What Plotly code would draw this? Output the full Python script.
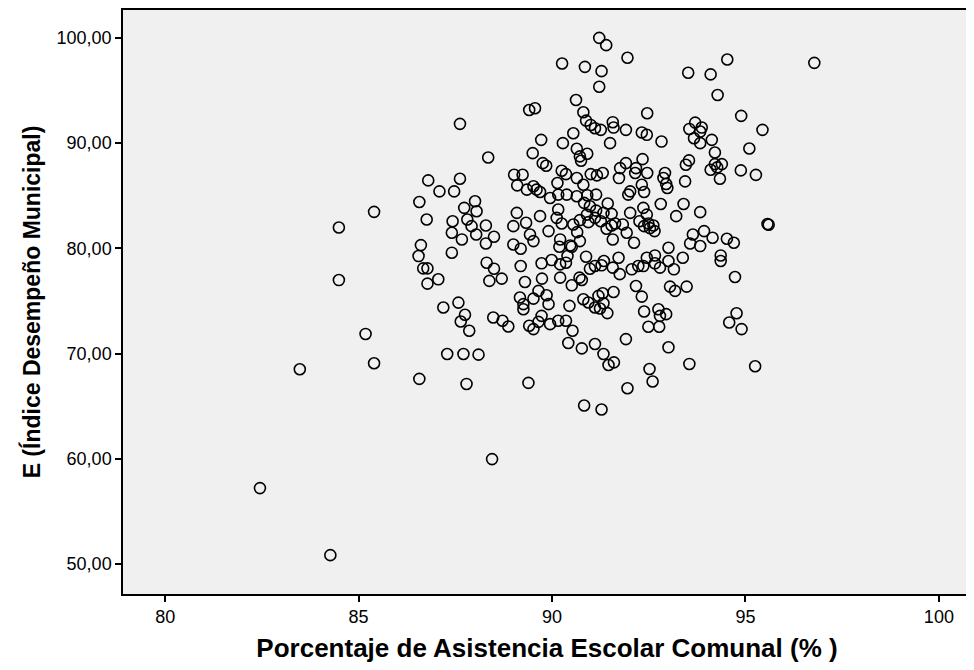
import plotly.graph_objects as go

# Porcentaje de Asistencia Escolar Comunal (%)
asistencia = [
    82.45, 84.27, 83.48, 84.49, 84.49, 85.18, 88.45,
    96.78, 95.44, 95.27, 95.57, 95.60, 95.25,
    91.95, 94.53, 93.52, 94.10, 94.28, 92.46, 94.89, 91.91, 92.32, 92.45,
    92.83, 93.70, 93.55, 93.87, 93.83, 93.67, 93.83, 94.13, 95.10, 94.21,
    91.91, 92.34, 92.17, 92.46, 93.54, 93.46, 94.21, 94.39, 94.10, 94.27,
    94.34, 94.88, 91.73, 91.76, 92.32, 92.02, 91.97, 92.38, 92.92, 92.88,
    92.95, 92.98, 93.44, 92.81, 93.40, 92.02, 92.36, 92.45, 93.21, 93.83, 92.15,
    91.22, 91.40, 90.26, 90.85, 91.28, 91.22, 90.62, 89.41, 89.56, 90.81,
    90.88, 91.00, 91.11, 91.26, 91.57, 91.59, 90.55, 89.72, 90.28, 91.50,
    88.35, 89.50, 90.64, 90.91, 90.72, 90.75, 89.76, 89.85, 90.25, 90.36,
    89.02, 89.24, 90.14, 90.64, 90.81, 91.00, 91.16, 91.31, 89.10, 89.35,
    89.52, 89.60, 89.69, 89.95, 90.16, 90.38, 90.64, 90.91, 91.14, 90.83,
    90.98, 91.14, 91.33, 91.44, 91.54, 90.90, 89.09, 89.69, 90.16, 90.12,
    88.29, 88.50, 88.29, 89.00, 89.33, 90.25, 90.55, 90.72, 90.94, 91.11,
    91.26, 91.41, 91.54, 91.63, 91.57, 89.91, 90.21, 90.19, 90.47, 90.51,
    90.72, 90.65, 89.43, 89.52, 89.00, 89.19, 88.31, 88.50, 88.70, 88.38,
    89.19, 89.73, 89.99, 90.21, 90.36, 90.40, 90.88, 90.98, 91.11, 91.28,
    91.34, 91.57, 91.72, 91.75, 89.30, 89.74, 90.21, 90.51, 90.71, 90.77,
    89.65, 89.52, 89.86, 89.91, 89.17, 89.26, 89.26, 90.45, 90.81, 90.94,
    91.11, 91.20, 91.31, 91.33, 91.24, 91.43, 91.59, 88.48, 88.72, 88.87,
    89.41, 89.52, 89.73, 89.65, 89.95, 90.16, 90.36, 90.53, 90.42, 90.77,
    91.11, 91.33, 91.46, 91.60, 89.39, 90.83, 91.28,
    91.83, 92.26, 92.38, 92.49, 92.62, 92.65, 92.53, 91.93, 92.12,
    93.64, 93.93, 93.57, 93.83, 94.15, 94.52, 94.70, 93.01, 94.36, 94.36,
    94.73, 92.06, 92.23, 92.36, 92.45, 92.66, 92.66, 92.79, 93.01, 93.15,
    93.38, 92.17, 92.32, 93.05, 93.18, 93.48, 92.38, 92.75, 92.79, 92.95,
    92.49, 92.77, 94.58, 94.77, 94.90, 91.91, 93.01, 92.52, 92.60, 93.55, 91.95,
    87.62, 85.40, 86.80, 87.62, 87.09, 87.47, 86.57, 88.01, 87.73, 88.05,
    86.76, 87.43, 87.81, 87.92, 88.04, 87.41, 87.67, 86.61, 86.55, 87.41,
    86.67, 86.78, 87.06, 86.78,
    87.19, 87.58, 87.75, 87.64, 87.86, 85.40, 87.29, 87.71, 88.10, 86.57, 87.79,
]

# E (Índice Desempeño Municipal)
desempeno = [
    57.22, 50.85, 68.51, 81.98, 76.99, 71.87, 59.98,
    97.63, 91.26, 86.98, 82.31, 82.25, 68.80,
    98.11, 97.95, 96.69, 96.53, 94.57, 92.84, 92.59, 91.26, 91.01, 90.79,
    90.15, 91.95, 91.35, 91.48, 91.10, 90.47, 90.00, 90.31, 89.49, 89.11,
    88.10, 88.48, 87.63, 87.16, 88.36, 87.95, 88.01, 88.01, 87.47, 87.70,
    86.62, 87.41, 86.68, 87.63, 86.05, 85.42, 85.11, 85.36, 87.16, 86.68,
    86.12, 85.74, 86.37, 84.22, 84.22, 83.37, 83.85, 83.21, 83.06, 83.44, 87.16,
    100.00, 99.31, 97.57, 97.25, 96.84, 95.36, 94.10, 93.15, 93.31, 92.93,
    92.14, 91.73, 91.42, 91.26, 91.99, 91.48, 90.94, 90.31, 90.00, 90.00,
    88.64, 89.05, 89.46, 88.99, 88.74, 88.33, 88.10, 87.85, 87.38, 87.06,
    87.00, 87.00, 86.21, 86.68, 86.05, 87.06, 86.94, 87.16, 85.99, 85.58,
    85.90, 85.58, 85.36, 84.79, 85.11, 85.11, 84.95, 85.05, 85.11, 84.32,
    84.00, 83.59, 83.37, 84.26, 83.28, 83.21, 83.37, 83.06, 83.69, 82.90,
    82.17, 81.10, 80.47, 82.11, 82.43, 82.36, 82.27, 82.68, 82.49, 82.90,
    82.58, 81.86, 82.17, 82.36, 80.85, 81.64, 80.85, 80.15, 80.28, 80.16,
    80.69, 81.54, 81.32, 80.69, 80.37, 79.97, 78.64, 78.07, 77.13, 76.91,
    78.32, 78.58, 78.89, 78.48, 78.64, 79.27, 79.21, 78.07, 78.33, 78.39,
    78.80, 78.17, 79.11, 77.55, 76.81, 77.13, 77.22, 76.49, 77.22, 77.00,
    75.96, 75.23, 75.55, 74.70, 75.33, 74.70, 74.22, 74.54, 75.17, 74.86,
    74.38, 75.49, 75.74, 74.79, 74.29, 73.85, 75.86, 73.43, 73.12, 72.58,
    72.65, 72.33, 73.59, 73.02, 72.80, 73.12, 73.12, 72.17, 71.01, 70.50,
    70.91, 69.96, 68.92, 69.17, 67.22, 65.07, 64.69,
    82.27, 82.58, 82.11, 82.36, 82.17, 81.64, 81.92, 81.48, 80.53,
    81.32, 81.64, 80.47, 80.22, 81.01, 80.91, 80.53, 80.06, 79.33, 78.80,
    77.28, 78.01, 78.32, 78.32, 79.11, 79.33, 78.58, 78.17, 78.80, 78.01,
    79.11, 76.43, 75.42, 76.37, 75.96, 76.37, 74.00, 74.22, 73.59, 73.75,
    72.55, 72.55, 72.96, 73.84, 72.33, 71.38, 70.60, 68.54, 67.35, 69.02, 66.71,
    91.83, 83.47, 86.46, 86.62, 85.42, 85.42, 84.41, 84.48, 83.85, 83.53,
    82.74, 82.58, 82.74, 82.11, 81.32, 81.48, 80.85, 80.31, 79.27, 79.59,
    78.10, 78.10, 77.06, 76.65,
    74.38, 74.85, 73.69, 73.05, 72.17, 69.08, 69.96, 69.96, 69.90, 67.60, 67.12,
]

x_ticks = [80, 85, 90, 95, 100]
y_ticks = [50, 60, 70, 80, 90, 100]
y_tick_labels = ["50,00", "60,00", "70,00", "80,00", "90,00", "100,00"]

fig = go.Figure(
    go.Scatter(
        x=asistencia,
        y=desempeno,
        mode="markers",
        marker=dict(symbol="circle-open", size=11, color="black",
                    line=dict(width=1.6, color="black")),
        hoverinfo="x+y",
        showlegend=False,
    )
)

font_family = "Liberation Sans, Arial, sans-serif"

# the page body adds an 8 px offset, so the figure is sized to compensate
fig.update_layout(
    width=966,
    height=662,
    margin=dict(l=115, r=3, t=0, b=76),
    paper_bgcolor="white",
    plot_bgcolor="#f0f0f0",
    font=dict(family=font_family, color="black"),
    xaxis=dict(
        range=[78.91, 100.83],
        tickvals=x_ticks,
        ticktext=[str(v) for v in x_ticks],
        ticks="outside", ticklen=6, tickwidth=1.5, tickcolor="black",
        showgrid=False, zeroline=False,
        showline=True, linecolor="black", linewidth=1.5, mirror=True,
        tickfont=dict(size=18, family=font_family),
        title=dict(text="<b>Porcentaje de Asistencia Escolar Comunal (% )</b>",
                   font=dict(size=26, family=font_family), standoff=12),
    ),
    yaxis=dict(
        range=[47.16, 102.65],
        tickvals=y_ticks,
        ticktext=y_tick_labels,
        ticks="outside", ticklen=6, tickwidth=1.5, tickcolor="black",
        showgrid=False, zeroline=False,
        showline=True, linecolor="black", linewidth=1.5, mirror=True,
        tickfont=dict(size=18, family=font_family),
        title=dict(text="<b>E (Índice Desempeño Municipal)</b>",
                   font=dict(size=23, family=font_family), standoff=10),
    ),
)

fig.write_html("out.html")
